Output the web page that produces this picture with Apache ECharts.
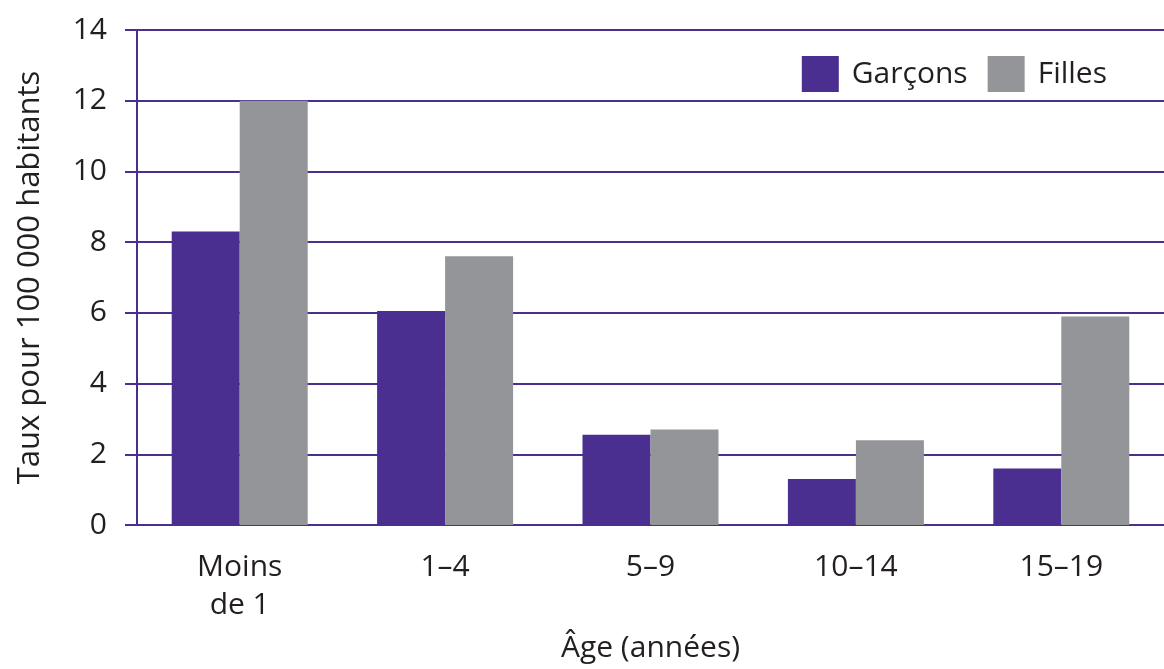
<!DOCTYPE html>
<html>
<head>
<meta charset="utf-8">
<script src="https://cdn.jsdelivr.net/npm/echarts@6/dist/echarts.min.js"></script>
<style>
  html, body { margin: 0; padding: 0; background: #fff; }
  #main { width: 1164px; height: 669px; }
</style>
</head>
<body>
<div id="main"></div>
<script>
// age groups and rates per 100 000 inhabitants
const categories = ['Moins\nde 1', '1–4', '5–9', '10–14', '15–19']
const garcons = [8.3, 6.05, 2.55, 1.3, 1.6]
const filles = [12.0, 7.6, 2.7, 2.4, 5.9]
const yTicks = { min: 0, max: 14, interval: 2 }

const purple = '#4a2f91'
const grey = '#939598'
const textColor = '#231f20'
const font = 'Open Sans'

const myChart = echarts.init(document.getElementById('main'))
myChart.setOption({
  animation: false,
  textStyle: { fontFamily: font, color: textColor },
  legend: {
    data: ['Garçons', 'Filles'],
    right: 52,
    top: 51,
    itemWidth: 37,
    itemHeight: 36,
    itemGap: 20,
    icon: 'rect',
    textStyle: { fontSize: 30, color: textColor, fontFamily: font, padding: [0, 0, 0, 8] },
    backgroundColor: '#fff'
  },
  grid: {
    left: 137,
    right: 0,
    top: 30,
    bottom: 144,
    outerBoundsMode: 'none',
    containLabel: false
  },
  xAxis: {
    type: 'category',
    data: categories,
    name: 'Âge (années)',
    nameLocation: 'middle',
    nameGap: 108,
    nameTextStyle: { fontSize: 30, color: textColor, fontFamily: font },
    axisLine: { lineStyle: { color: purple, width: 2 } },
    axisTick: { show: false },
    axisLabel: { fontSize: 30, color: textColor, margin: 23, lineHeight: 38, fontFamily: font }
  },
  yAxis: {
    type: 'value',
    min: yTicks.min,
    max: yTicks.max,
    interval: yTicks.interval,
    name: 'Taux pour 100 000 habitants',
    nameLocation: 'middle',
    nameGap: 91,
    nameTextStyle: { fontSize: 31, color: textColor, fontFamily: font },
    axisLine: { show: true, lineStyle: { color: purple, width: 2 } },
    axisTick: { show: true, length: 12, lineStyle: { color: purple, width: 2 } },
    axisLabel: { fontSize: 30, color: textColor, margin: 30, fontFamily: font },
    splitLine: { lineStyle: { color: purple, width: 2 } }
  },
  series: [
    {
      name: 'Garçons',
      type: 'bar',
      data: garcons,
      barWidth: 68,
      barGap: '0%',
      itemStyle: { color: purple }
    },
    {
      name: 'Filles',
      type: 'bar',
      data: filles,
      barWidth: 68,
      barGap: '0%',
      itemStyle: { color: grey }
    }
  ]
})
</script>
</body>
</html>
